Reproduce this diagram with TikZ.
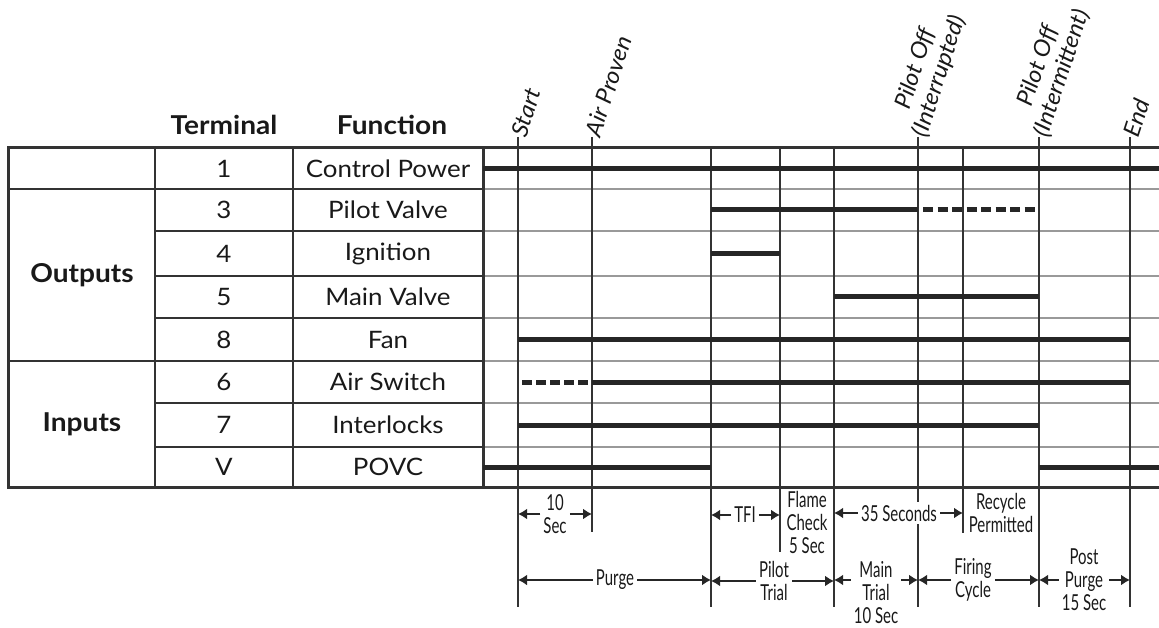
\documentclass[tikz,border=0pt]{standalone}
\usepackage{fontspec}
\setmainfont{Lato}[FakeStretch=1.08]
\newfontfamily\narrowfont[FakeStretch=0.68]{Lato}
\newfontfamily\eventfont[FakeStretch=1.05]{Lato}
\usetikzlibrary{arrows.meta}

\begin{document}
\begin{tikzpicture}[x=1pt, y=-1pt,
    cell/.style={font=\fontsize{24}{28}\selectfont, text=black!90},
    head/.style={font=\bfseries\fontsize{26}{30}\selectfont, text=black!90},
    event/.style={font=\eventfont\itshape\fontsize{23}{25}\selectfont, rotate=72, inner sep=1pt, align=center, text=black!90},
    note/.style={font=\narrowfont\fontsize{22}{23}\selectfont, align=center, inner sep=3pt, text=black!90},
    border/.style={line width=3pt, black!80},
    tabrule/.style={line width=1.6pt, black!80},
    rowrule/.style={line width=1.8pt, black!40},
    tline/.style={line width=2pt, black!80},
    sigline/.style={line width=5pt, black!85},
    dimarrow/.style={line width=2.8pt, black!85, -{Latex[length=9pt,width=11pt]}}]

    \useasboundingbox (0,0) rectangle (1159,628);

    % table
    \draw[rowrule] (483,189) -- (1159,189);
    \draw[rowrule] (483,231) -- (1159,231);
    \draw[rowrule] (483,276) -- (1159,276);
    \draw[rowrule] (483,318) -- (1159,318);
    \draw[rowrule] (483,361) -- (1159,361);
    \draw[rowrule] (483,403) -- (1159,403);
    \draw[rowrule] (483,447) -- (1159,447);
    \draw[tabrule] (8,189) -- (483,189);
    \draw[tabrule] (155,231) -- (483,231);
    \draw[tabrule] (155,276) -- (483,276);
    \draw[tabrule] (155,318) -- (483,318);
    \draw[tabrule] (8,361) -- (483,361);
    \draw[tabrule] (155,403) -- (483,403);
    \draw[tabrule] (155,447) -- (483,447);
    \draw[tabrule] (155,148) -- (155,487);
    \draw[tabrule] (293,148) -- (293,487);
    \draw[border] (483,148) -- (483,487);
    \draw[border] (1159,148) -- (8,148) -- (8,487) -- (1159,487);

    \node[head] (terminal) at (224,125) {Terminal};
    \node[head] (function) at (392,125) {Function};
    \node[head] (outputs) at (82,275) {Outputs};
    \node[head] (inputs) at (82,424) {Inputs};

    \node[cell] (t1) at (224,168.5) {1};
    \node[cell] (t3) at (224,210) {3};
    \node[cell] (t4) at (224,253.5) {4};
    \node[cell] (t5) at (224,297) {5};
    \node[cell] (t8) at (224,339.5) {8};
    \node[cell] (t6) at (224,382) {6};
    \node[cell] (t7) at (224,425) {7};
    \node[cell] (tV) at (224,467) {V};
    \node[cell] (f1) at (388,168.5) {Control Power};
    \node[cell] (f3) at (388,210) {Pilot Valve};
    \node[cell] (f4) at (388,253.5) {Ignition};
    \node[cell] (f5) at (388,297) {Main Valve};
    \node[cell] (f8) at (388,339.5) {Fan};
    \node[cell] (f6) at (388,382) {Air Switch};
    \node[cell] (f7) at (388,425) {Interlocks};
    \node[cell] (fV) at (388,467) {POVC};

    % time marks
    \coordinate (tStart) at (518,137);
    \coordinate (tAir) at (592,137);
    \coordinate (tPilot) at (711,148);
    \coordinate (tFlame) at (780,148);
    \coordinate (tMain) at (834,148);
    \coordinate (tOffA) at (918,137);
    \coordinate (tRecycle) at (963,148);
    \coordinate (tOffB) at (1039,137);
    \coordinate (tEnd) at (1130,137);

    \draw[tline] (tStart) -- ++(0,470);
    \draw[tline] (tAir) -- ++(0,395);
    \draw[tline] (tPilot) -- ++(0,459);
    \draw[tline] (tFlame) -- ++(0,404);
    \draw[tline] (tMain) -- ++(0,459);
    \draw[tline] (tOffA) -- ++(0,470);
    \draw[tline] (tRecycle) -- ++(0,385);
    \draw[tline] (tOffB) -- ++(0,470);
    \draw[tline] (tEnd) -- ++(0,470);

    \node[event, anchor=west] (start) at (tStart) {Start};
    \node[event, anchor=west] (airproven) at (tAir) {Air Proven};
    \node[event, anchor=south west] (offint) at ([shift={(13,4)}]tOffA) {Pilot Off\\(Interrupted)};
    \node[event, anchor=south west] (offimt) at ([shift={(13,4)}]tOffB) {Pilot Off\\(Intermittent)};
    \node[event, anchor=west] (endmark) at (tEnd) {End};

    % signals
    \draw[sigline] (483,168.5) -- (1159,168.5);
    \draw[sigline] (711,210) -- (918,210);
    \draw[sigline, dash pattern=on 10pt off 4.5pt] (923,210) -- (1039,210);
    \draw[sigline] (711,253.5) -- (780,253.5);
    \draw[sigline] (834,297) -- (1039,297);
    \draw[sigline] (518,339.5) -- (1130,339.5);
    \draw[sigline, dash pattern=on 9.5pt off 4.5pt] (522,382) -- (590,382);
    \draw[sigline] (592,382) -- (1130,382);
    \draw[sigline] (518,425) -- (1039,425);
    \draw[sigline] (483,467) -- (711,467);
    \draw[sigline] (1039,467) -- (1159,467);

    % durations
    \node[note] (tensec) at (555,514) {10\\Sec};
    \draw[dimarrow] (tensec) -- (tensec -| tStart);
    \draw[dimarrow] (tensec) -- (tensec -| tAir);
    \node[note] (tfi) at (745,515) {TFI};
    \draw[dimarrow] (tfi) -- (tfi -| tPilot);
    \draw[dimarrow] (tfi) -- (tfi -| tFlame);
    \node[note] (flame) at (807,522) {Flame\\Check\\5 Sec};
    \node[note, fill=white] (thirtyfive) at (899,513) {35 Seconds};
    \draw[dimarrow] (thirtyfive) -- (thirtyfive -| tMain);
    \draw[dimarrow] (thirtyfive) -- (thirtyfive -| tRecycle);
    \node[note] (recycle) at (1001,513) {Recycle\\Permitted};

    \node[note] (purge) at (615,580) {Purge};
    \draw[dimarrow] (purge) -- (purge -| tStart);
    \draw[dimarrow] (purge) -- (purge -| tPilot);
    \node[note] (pilottrial) at (774,581) {Pilot\\Trial};
    \draw[dimarrow] (pilottrial) -- (pilottrial -| tPilot);
    \draw[dimarrow] (pilottrial) -- (pilottrial -| tMain);
    \node[note] (maintrial) at (876,593) {Main\\Trial\\10 Sec};
    \draw[dimarrow] (maintrial.west |- purge) -- (tMain |- purge);
    \draw[dimarrow] (maintrial.east |- purge) -- (tOffA |- purge);
    \node[note] (firing) at (973,580) {Firing\\Cycle};
    \draw[dimarrow] (firing) -- (firing -| tOffA);
    \draw[dimarrow] (firing) -- (firing -| tOffB);
    \node[note] (postpurge) at (1084,580) {Post\\Purge\\15 Sec};
    \draw[dimarrow] (postpurge) -- (postpurge -| tOffB);
    \draw[dimarrow] (postpurge) -- (postpurge -| tEnd);
\end{tikzpicture}
\end{document}
